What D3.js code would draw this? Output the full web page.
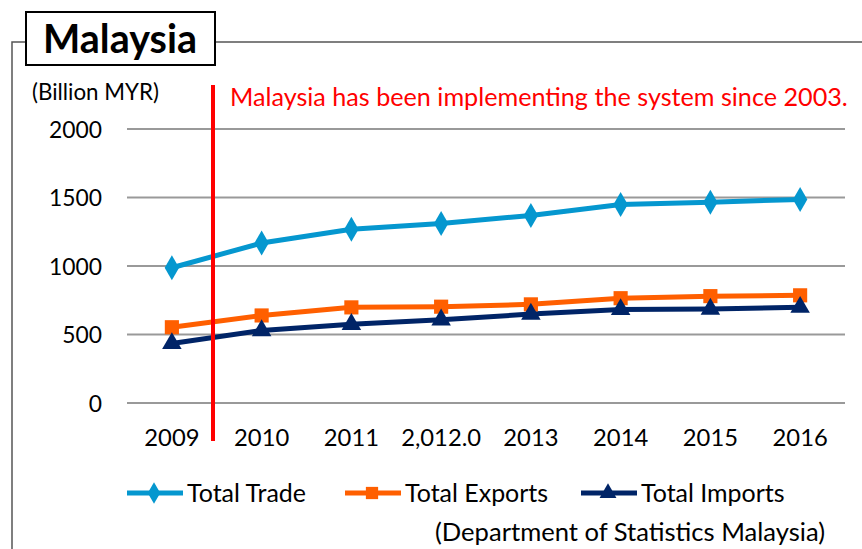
<!DOCTYPE html>
<html>
<head>
<meta charset="utf-8">
<script src="https://cdn.jsdelivr.net/npm/d3@7"></script>
<style>
  body { margin: 0; background: #fff; }
  svg text { font-family: Lato, "Open Sans", sans-serif; fill: #000; }
</style>
</head>
<body>
<div id="chart"></div>
<script>
// chart data
var years = ["2009", "2010", "2011", "2,012.0", "2013", "2014", "2015", "2016"];
var totalTrade = [987, 1168, 1268, 1310, 1369, 1449, 1466, 1486];
var totalExports = [553, 639, 698, 703, 720, 765, 780, 786];
var totalImports = [435, 529, 574, 607, 649, 683, 686, 699];
var yTicks = [0, 500, 1000, 1500, 2000];
var seriesNames = ["Total Trade", "Total Exports", "Total Imports"];

var W = 862, H = 549;
var margin = {top: 129, right: 17, bottom: 146, left: 127};

var svg = d3.select("#chart").append("svg")
  .attr("width", W).attr("height", H);

// the original used Calibri; scale our font so each text takes the same width
function fitSize(sel, sample, target) {
  var fs = parseFloat(sel.style("font-size"));
  var w = sample.node().getComputedTextLength();
  sel.style("font-size", (fs * target / w).toFixed(2) + "px");
}

// outer frame with title box
svg.append("path")
  .attr("d", "M12," + H + " V42 H26 M215,42 H" + W)
  .attr("fill", "none").attr("stroke", "#555").attr("stroke-width", 1.5);
svg.append("rect")
  .attr("x", 26).attr("y", 12).attr("width", 189).attr("height", 53)
  .attr("fill", "#fff").attr("stroke", "#000").attr("stroke-width", 2);
var title = svg.append("text")
  .attr("x", 120).attr("y", 53).attr("text-anchor", "middle")
  .style("font-size", "36px").style("font-weight", "bold")
  .text("Malaysia");
fitSize(title, title, 154);

var x = d3.scaleBand()
  .domain(years)
  .range([margin.left, W - margin.right]);

var y = d3.scaleLinear()
  .domain([0, 2000])
  .range([H - margin.bottom, margin.top]);

// gridlines
svg.append("g")
  .selectAll("line").data(yTicks).enter().append("line")
  .attr("x1", margin.left).attr("x2", W - margin.right)
  .attr("y1", function(d) { return y(d); })
  .attr("y2", function(d) { return y(d); })
  .attr("stroke", "#999").attr("stroke-width", 2);

// y axis labels
var yAxis = svg.append("g")
  .attr("transform", "translate(" + margin.left + ",0)")
  .call(d3.axisLeft(y).tickValues(yTicks).tickFormat(d3.format("d")).tickSize(0).tickPadding(25));
yAxis.select(".domain").remove();
yAxis.attr("font-family", null).attr("font-size", null).style("font-size", "22px");
yAxis.selectAll("text").attr("dy", "0.35em");
fitSize(yAxis, yAxis.selectAll("text").filter(function(d) { return d === 2000; }), 53);

// x axis labels
var xAxis = svg.append("g")
  .attr("transform", "translate(0," + y(0) + ")")
  .call(d3.axisBottom(x).tickSize(0));
xAxis.select(".domain").remove();
xAxis.attr("font-family", null).attr("font-size", null).style("font-size", "22px");
xAxis.selectAll("text").attr("dy", null).attr("y", 43);
fitSize(xAxis, xAxis.selectAll("text").filter(function(d) { return d === "2,012.0"; }), 80);

var unit = svg.append("text")
  .attr("x", 32).attr("y", 100)
  .style("font-size", "19px")
  .text("(Billion MYR)");
fitSize(unit, unit, 127);

var colors = ["#0597CF", "#FF5F00", "#002467"];
var shapes = [d3.symbolDiamond, d3.symbolSquare, d3.symbolTriangle];
var sizes = [180, 200, 165];
var allSeries = [totalTrade, totalExports, totalImports];

var line = d3.line()
  .x(function(d, i) { return x(years[i]) + x.bandwidth() / 2; })
  .y(function(d) { return y(d); });

allSeries.forEach(function(vals, k) {
  svg.append("path")
    .datum(vals)
    .attr("d", line)
    .attr("fill", "none")
    .attr("stroke", colors[k])
    .attr("stroke-width", 5);
});

allSeries.forEach(function(vals, k) {
  svg.append("g").selectAll("path").data(vals).enter().append("path")
    .attr("d", d3.symbol().type(shapes[k]).size(sizes[k]))
    .attr("transform", function(d, i) {
      return "translate(" + (x(years[i]) + x.bandwidth() / 2) + "," + y(d) + ")";
    })
    .attr("fill", colors[k]);
});

// red marker line + note
svg.append("line")
  .attr("x1", 213).attr("x2", 213).attr("y1", 85).attr("y2", 441)
  .attr("stroke", "#FF0000").attr("stroke-width", 4);
var note = svg.append("text")
  .attr("x", 230).attr("y", 106)
  .style("font-size", "24px").style("fill", "#FF0000")
  .text("Malaysia has been implementing the system since 2003.");
fitSize(note, note, 618);

// legend
var legX = [127, 345, 581];
var legend = svg.append("g").style("font-size", "22px");
var legText = [];
seriesNames.forEach(function(name, k) {
  var g = legend.append("g").attr("transform", "translate(" + legX[k] + ",493)");
  g.append("line").attr("x1", 0).attr("x2", 56).attr("y1", 0).attr("y2", 0)
    .attr("stroke", colors[k]).attr("stroke-width", 5);
  g.append("path").attr("d", d3.symbol().type(shapes[k]).size(sizes[k] * 0.75))
    .attr("transform", "translate(27,0)").attr("fill", colors[k]);
  legText.push(g.append("text").attr("x", 60).attr("y", 9).text(name));
});
fitSize(legend, legText[0], 119);

var source = svg.append("text")
  .attr("x", 825).attr("y", 541).attr("text-anchor", "end")
  .style("font-size", "22px")
  .text("(Department of Statistics Malaysia)");
fitSize(source, source, 390);
</script>
</body>
</html>
